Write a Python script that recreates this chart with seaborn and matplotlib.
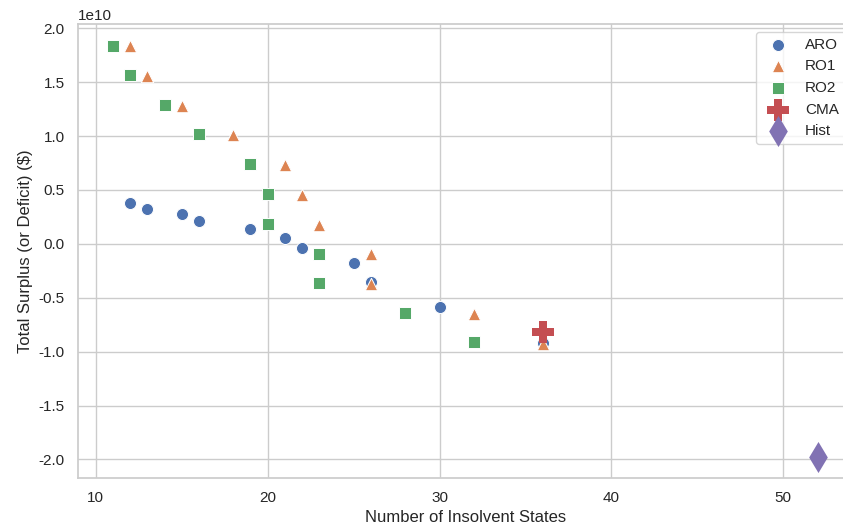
import matplotlib
matplotlib.use("Agg")
import matplotlib.pyplot as plt
import seaborn as sns
import numpy as np

sns.set_theme(style="whitegrid")
plt.rcParams['font.family'] = ['Liberation Sans', 'DejaVu Sans']
plt.rcParams['axes.unicode_minus'] = False

# number of insolvent states vs total surplus ($)
aro_x = [12, 13, 15, 16, 19, 21, 22, 25, 26, 30, 36]
aro_y = [3.8e9, 3.25e9, 2.75e9, 2.1e9, 1.4e9, 0.55e9, -0.4e9, -1.8e9, -3.5e9, -5.9e9, -9.2e9]

ro1_x = [12, 13, 15, 18, 21, 22, 23, 26, 26, 32, 36]
ro1_y = [1.84e10, 1.56e10, 1.28e10, 1.01e10, 0.73e10, 0.45e10, 0.175e10, -0.095e10, -0.375e10, -0.65e10, -0.93e10]

ro2_x = [11, 12, 14, 16, 19, 20, 20, 23, 23, 28, 32]
ro2_y = [1.84e10, 1.57e10, 1.29e10, 1.015e10, 0.74e10, 0.46e10, 0.185e10, -0.09e10, -0.365e10, -0.64e10, -0.915e10]

cma_x = [36]
cma_y = [-0.82e10]

hist_x = [52]
hist_y = [-1.975e10]

pal = sns.color_palette()

fig = plt.figure(figsize=(8.43, 5.27), dpi=100)
ax = fig.add_axes([0.0922, 0.0935, 0.9195, 0.861])

sns.scatterplot(x=aro_x, y=aro_y, marker='o', s=75, color=pal[0], label='ARO', ax=ax)
sns.scatterplot(x=ro1_x, y=ro1_y, marker='^', s=80, color=pal[1], label='RO1', ax=ax)
sns.scatterplot(x=ro2_x, y=ro2_y, marker='s', s=75, color=pal[2], label='RO2', ax=ax)
sns.scatterplot(x=cma_x, y=cma_y, marker='P', s=230, color=pal[3], label='CMA',
                linewidth=0, ax=ax)
sns.scatterplot(x=hist_x, y=hist_y, marker='d', s=250, color=pal[4], label='Hist',
                linewidth=0, ax=ax)

ax.set_ylim(-2.17e10, 2.04e10)
ax.set_xlabel("Number of Insolvent States")
ax.set_ylabel("Total Surplus (or Deficit) ($)")
ax.legend(loc='upper right')

fig.savefig("out.png", dpi=100)
